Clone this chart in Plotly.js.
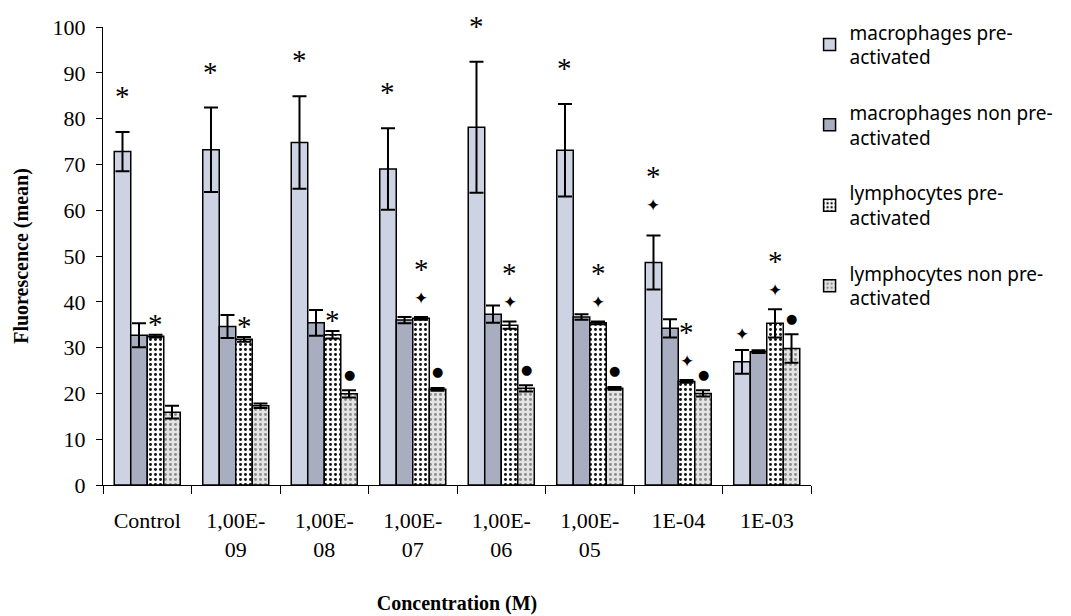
<!DOCTYPE html>
<html><head><meta charset="utf-8">
<script src="https://cdn.plot.ly/plotly-3.0.1.min.js"></script>
<style>html,body{margin:0;padding:0;background:#fff}#chart{width:1071px;height:616px}</style>
</head><body><div id="chart"></div>
<script>
const categories = ["Control","1,00E-09","1,00E-08","1,00E-07","1,00E-06","1,00E-05","1E-04","1E-03"];
const tickLabels = ["Control","1,00E-<br>09","1,00E-<br>08","1,00E-<br>07","1,00E-<br>06","1,00E-<br>05","1E-04","1E-03"];
const seriesNames = ["macrophages pre-<br>activated","macrophages non pre-<br>activated","lymphocytes pre-<br>activated","lymphocytes non pre-<br>activated"];
const macPre    = [72.8,73.2,74.8,69.0,78.1,73.1,48.6,26.9];
const macPreErr = [4.3,9.2,10.1,8.9,14.3,10.1,5.9,2.6];
const macNon    = [32.7,34.6,35.4,36.0,37.3,36.7,34.2,29.1];
const macNonErr = [2.6,2.5,2.8,0.7,1.9,0.6,2.0,0.3];
const lymPre    = [32.5,31.8,32.8,36.4,34.9,35.4,22.6,35.3];
const lymPreErr = [0.3,0.5,0.8,0.3,0.8,0.3,0.3,3.1];
const lymNon    = [15.9,17.3,19.9,20.9,21.1,21.1,20.0,29.8];
const lymNonErr = [1.4,0.5,0.8,0.3,0.7,0.3,0.7,3.1];
const sigMacPre = ["*","*","*","*","*","*","*|✦","✦"];
const sigMacNon = ["","","","","","","",""];
const sigLymPre = ["*","*","*","*|✦","*|✦","*|✦","*|✦","*|✦"];
const sigLymNon = ["","","●","●","●","●","●","●"];
const yTicks = [0,10,20,30,40,50,60,70,80,90,100];

const W = 1071, H = 616;
const M = {l:103, r:260, t:27, b:131};
const bargap = 0.254;
const plotW = W - M.l - M.r;
const catPx = plotW / categories.length;
const barPx = catPx * (1 - bargap) / 4;

const values = [macPre, macNon, lymPre, lymNon];
const errs = [macPreErr, macNonErr, lymPreErr, lymNonErr];
const sigs = [sigMacPre, sigMacNon, sigLymPre, sigLymNon];
const styles = [
  {color:'#cdd3e2', pattern:{shape:''}},
  {color:'#a8aebf', pattern:{shape:''}},
  {color:'#ffffff', pattern:{shape:'.', fgcolor:'#111111', bgcolor:'#ffffff', size:5, solidity:0.28, fillmode:'replace'}},
  {color:'#dcdcdc', pattern:{shape:'.', fgcolor:'#8c8c8c', bgcolor:'#e4e4e4', size:5, solidity:0.28, fillmode:'replace'}}
];

const traces = values.map((v, i) => ({
  type:'bar', x:categories, y:v, name:seriesNames[i], legendgroup:'g'+i,
  marker:{color:styles[i].color, pattern:styles[i].pattern, line:{color:'#000', width:1.5}},
  error_y:{type:'data', array:errs[i], visible:true, color:'#000', thickness:2, width:7}
}));

const baseGap = [44, 18, 19, 16];
const step = 37;
const annotations = [];
sigs.forEach((s, i) => {
  s.forEach((txt, j) => {
    if (!txt) return;
    const toks = txt.split('|').reverse(); // bottom-up
    toks.forEach((t, k) => {
      let font, adj = 0;
      if (t === '*') { font = {family:'Liberation Serif', size:29, color:'#000'}; adj = -8; }
      else if (t === '✦') { font = {family:'DejaVu Sans', size:17, color:'#000'}; }
      else { font = {family:'DejaVu Sans', size:13, color:'#000'}; }
      let gap = (k === 0) ? baseGap[i] : baseGap[i] + step * k;
      if (i === 0 && toks.length > 1) gap = (k === 0) ? 30 : 30 + step * k;
      if (i === 0 && t === '✦' && toks.length === 1) gap = 16;
      annotations.push({
        x: j, y: values[i][j] + errs[i][j], xref:'x', yref:'y',
        text: t, showarrow:false, xanchor:'center', yanchor:'middle', borderpad:0,
        xshift: (i - 1.5) * barPx, yshift: gap + adj, font
      });
    });
  });
});

const layout = {
  width:W, height:H, margin:M, paper_bgcolor:'#fff', plot_bgcolor:'#fff',
  barmode:'group', bargap:bargap, bargroupgap:0, showlegend:true,
  font:{family:'Liberation Serif', size:22, color:'#000'},
  xaxis:{
    type:'category', tickmode:'array', tickvals:categories, ticktext:tickLabels, tickson:'boundaries',
    ticks:'outside', ticklen:8, tickwidth:1, tickcolor:'#000', tickangle:0,
    showline:true, linecolor:'#000', linewidth:1, showgrid:false, zeroline:false,
    ticklabelstandoff:16,
    tickfont:{family:'Liberation Serif', size:22, color:'#000'},
    title:{text:'<b>Concentration (M)</b>', font:{family:'Liberation Serif', size:20, color:'#000'}, standoff:34}
  },
  yaxis:{
    range:[0,100], tickmode:'array', tickvals:yTicks, ticks:'outside', ticklen:6, tickcolor:'#000',
    showline:true, linecolor:'#000', linewidth:1, showgrid:false, zeroline:false,
    ticklabelstandoff:6,
    tickfont:{family:'Liberation Serif', size:22, color:'#000'},
    title:{text:'<b>Fluorescence (mean)</b>', font:{family:'Liberation Serif', size:20, color:'#000'}, standoff:18}
  },
  legend:{
    x:0.998, y:1.03, xanchor:'left', yanchor:'top', traceorder:'grouped', tracegroupgap:28,
    font:{family:'Noto Sans', size:19, color:'#000'}, bgcolor:'rgba(0,0,0,0)', itemwidth:30
  },
  annotations
};
Plotly.newPlot('chart', traces, layout, {staticPlot:true});
</script></body></html>
